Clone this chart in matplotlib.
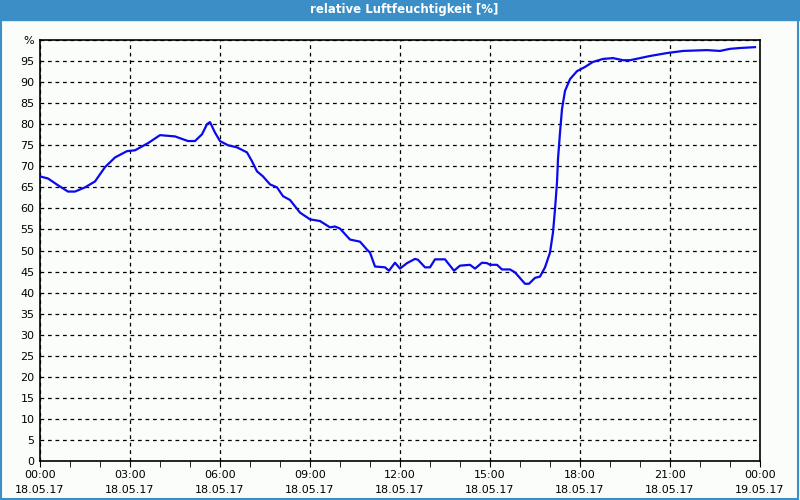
import matplotlib
matplotlib.use("Agg")
import matplotlib.pyplot as plt
import matplotlib.dates as mdates
import pandas as pd

# time of day (HH:MM on 18.05.17) and relative humidity [%]
times = ["00:00", "00:16", "00:36", "00:56", "01:10", "01:30", "01:50", "02:10",
         "02:30", "02:54", "03:10", "03:36", "04:00", "04:30", "04:56", "05:10",
         "05:24", "05:34", "05:40", "05:50", "06:00", "06:16", "06:34", "06:54",
         "07:04", "07:14", "07:26", "07:40", "07:54", "08:06", "08:20", "08:40",
         "09:00", "09:20", "09:40", "09:50", "10:00", "10:20", "10:40", "10:54",
         "11:00", "11:10", "11:30", "11:38", "11:50", "12:00", "12:14", "12:30",
         "12:36", "12:50", "13:00", "13:10", "13:30", "13:48", "14:00", "14:20",
         "14:30", "14:44", "14:54", "15:00", "15:14", "15:24", "15:40", "15:50",
         "16:10", "16:18", "16:30", "16:40", "16:50", "17:00", "17:06", "17:10",
         "17:14", "17:16", "17:20", "17:24", "17:30", "17:40", "17:54", "18:10",
         "18:26", "18:46", "19:06", "19:26", "19:40", "20:20", "20:54", "21:26",
         "22:14", "22:40", "23:00", "23:20", "23:50"]
humidity = [67.6, 67.1, 65.5, 64.0, 64.0, 65.0, 66.4, 69.8,
            72.1, 73.6, 73.8, 75.5, 77.4, 77.1, 76.0, 76.0,
            77.6, 80.0, 80.5, 78.0, 76.0, 75.0, 74.5, 73.3,
            71.2, 68.8, 67.6, 65.7, 65.0, 62.9, 62.0, 59.0,
            57.4, 57.0, 55.5, 55.7, 55.2, 52.6, 52.1, 50.2,
            49.5, 46.2, 46.0, 45.2, 47.1, 45.7, 47.0, 48.0,
            47.8, 46.0, 46.0, 47.9, 47.9, 45.2, 46.4, 46.6,
            45.7, 47.1, 47.0, 46.6, 46.6, 45.5, 45.5, 44.8,
            42.1, 42.1, 43.5, 43.8, 46.0, 49.5, 54.3, 59.8,
            66.2, 71.7, 78.0, 83.6, 87.9, 90.7, 92.6, 93.6,
            94.8, 95.5, 95.7, 95.2, 95.2, 96.2, 96.9, 97.4,
            97.6, 97.4, 97.9, 98.1, 98.3]

stamps = pd.to_datetime(["2017-05-18 " + t for t in times])

bar_blue = "#3c8fc6"
fig = plt.figure(figsize=(8, 5), dpi=100, facecolor="#fbfdfb")

# title bar and window frame
fig.patches.append(plt.Rectangle((0, 0.96), 1, 0.04, transform=fig.transFigure,
                                 color=bar_blue, zorder=0))
fig.patches.append(plt.Rectangle((0.001, 0.002), 0.997, 0.996, transform=fig.transFigure,
                                 fill=False, edgecolor=bar_blue, linewidth=1.5))
fig.text(0.505, 0.98, "relative Luftfeuchtigkeit [%]", color="white", fontsize=8.5,
         fontweight="bold", ha="center", va="center")

ax = fig.add_axes([0.05, 0.078, 0.90, 0.842])
ax.set_facecolor("#fbfdfb")
ax.plot(stamps, humidity, color="#0a0aeb", linewidth=1.6, zorder=3)

start = pd.Timestamp("2017-05-18 00:00")
end = pd.Timestamp("2017-05-19 00:00")
ax.set_xlim(start, end)
ax.set_ylim(0, 100)

ax.xaxis.set_major_locator(mdates.HourLocator(byhour=range(0, 24, 3)))
ax.xaxis.set_minor_locator(mdates.HourLocator())
ax.xaxis.set_major_formatter(mdates.DateFormatter("%H:%M\n%d.%m.%y"))

yt = list(range(0, 101, 5))
ax.set_yticks(yt)
ax.set_yticklabels([str(v) if v < 100 else "%" for v in yt])

ax.tick_params(axis="x", which="both", direction="out", length=4, labelsize=8, pad=2.5)
ax.tick_params(axis="y", length=0, labelsize=8, pad=4)
for lab in ax.get_xticklabels():
    lab.set_linespacing(1.6)

ax.grid(True, which="major", color="black", linestyle=(0, (3, 3)), linewidth=0.9)
for sp in ax.spines.values():
    sp.set_linewidth(1.2)

fig.savefig("out.png", dpi=100, facecolor=fig.get_facecolor())
